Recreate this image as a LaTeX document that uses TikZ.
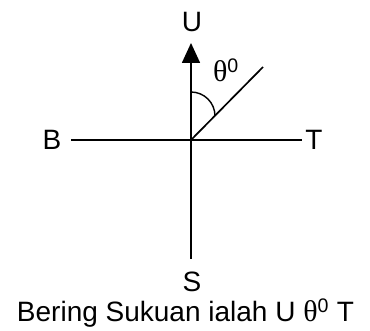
\documentclass[tikz,border=0pt]{standalone}
\usepackage{fontspec}
\setmainfont{Liberation Sans}
\newfontfamily\thetafont{Liberation Serif}
\usetikzlibrary{arrows.meta}
\begin{document}
\begin{tikzpicture}[x=1pt,y=-1pt, line width=1.7pt,
  lbl/.style={font=\fontsize{28}{32}\selectfont, inner sep=0pt},
  axis/.style={line width=1.7pt, draw=black}]
\useasboundingbox (0,0) rectangle (370,331);
\coordinate (O) at (191,140);
\coordinate (N) at (191,43);
\coordinate (Sd) at (191,259);
\coordinate (W) at (71,140);
\coordinate (E) at (302,140);
\coordinate (NE) at (263,67);
\coordinate (A0) at (191,92);
\draw[axis] (O) -- (Sd);
\draw[axis,-{Triangle[length=20pt,width=18pt]}] (O) -- (N);
\draw[axis] (W) -- (E);
\draw[axis] (O) -- (NE);
\draw[line width=1.4pt] (A0) arc[start angle=-90, end angle=0, radius=24];
\node[lbl] (U) at (192,22) {U};
\node[lbl] (B) at (52,140) {B};
\node[lbl] (T) at (314,140) {T};
\node[lbl] (S) at (192,282) {S};
\node[lbl] (th) at (226,70) {{\thetafont\fontsize{30}{32}\selectfont θ}\textsuperscript{0}};
\node[lbl, anchor=base] (cap) at (185.5,322) {Bering Sukuan ialah U {\thetafont\fontsize{30}{32}\selectfont θ}\textsuperscript{0} T};
\end{tikzpicture}
\end{document}
